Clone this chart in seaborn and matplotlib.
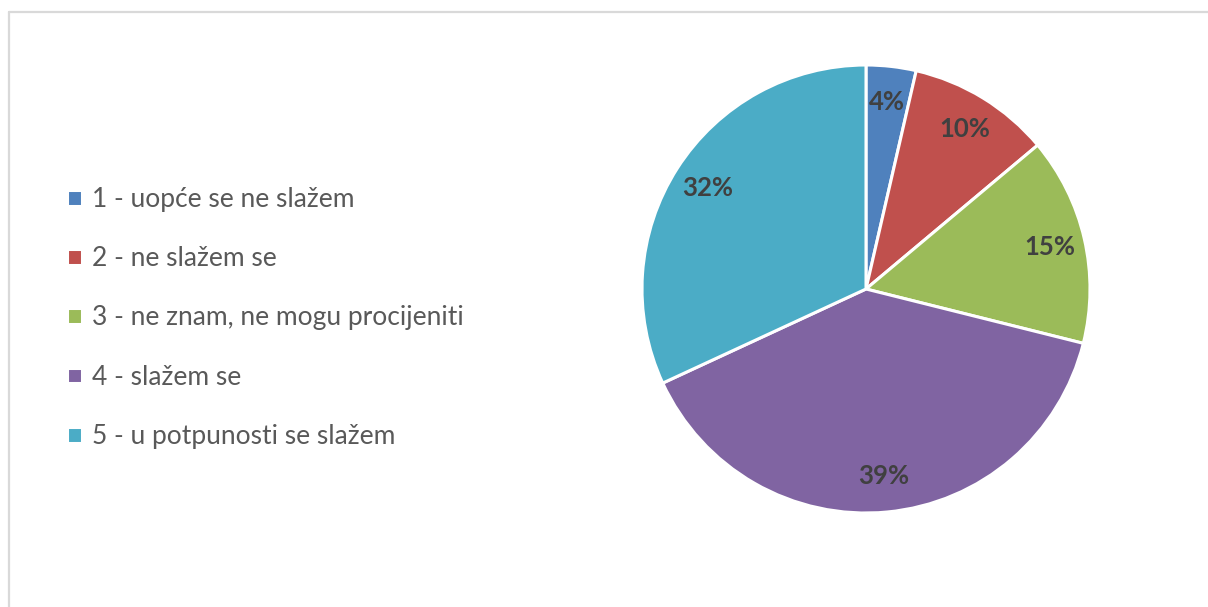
import matplotlib
matplotlib.use("Agg")
import matplotlib.pyplot as plt
from matplotlib.lines import Line2D
import seaborn as sns

# answers (share of respondents, %)
categories = ["1 - uopće se ne slažem", "2 - ne slažem se", "3 - ne znam, ne mogu procijeniti",
              "4 - slažem se", "5 - u potpunosti se slažem"]
shares = [3.6, 10.3, 15.0, 39.2, 31.9]
colors = ["#4F81BD", "#C0504D", "#9BBB59", "#8064A2", "#4BACC6"]

sns.set_theme(style="white")
plt.rcParams['font.family'] = ['Lato', 'DejaVu Sans']

W, H = 1208, 607
fig = plt.figure(figsize=(W / 100, H / 100), dpi=100)
fig.patch.set_facecolor("white")

# chart border (only top and left visible in the crop)
fig.add_artist(Line2D([9 / W, 9 / W], [0, 1 - 12 / H], transform=fig.transFigure,
                      color="#d9d9d9", lw=1.6))
fig.add_artist(Line2D([9 / W, 1], [1 - 12 / H, 1 - 12 / H], transform=fig.transFigure,
                      color="#d9d9d9", lw=1.6))

cx, cy, r = 866, 289, 224
ax = fig.add_axes([(cx - r) / W, (H - cy - r) / H, 2 * r / W, 2 * r / H])
wedges, texts, autotexts = ax.pie(
    shares, colors=colors, startangle=90, counterclock=False,
    autopct=lambda p: f"{p:.0f}%", pctdistance=0.84,
    wedgeprops=dict(edgecolor="white", linewidth=2.2),
    textprops=dict(color="#404040", fontsize=18.5, fontweight="bold"),
)
ax.set_xlim(-1.0, 1.0)
ax.set_ylim(-1.0, 1.0)
ax.set_aspect("equal")
ax.axis("off")

leg = fig.legend(wedges, categories, loc="center left", bbox_to_anchor=(54 / W, 1 - 318 / H),
                 frameon=False, fontsize=19, labelcolor="#595959",
                 handlelength=0.55, handleheight=0.55, handletextpad=0.4,
                 labelspacing=1.3, borderpad=0)

fig.savefig("out.png", dpi=100, facecolor="white")
